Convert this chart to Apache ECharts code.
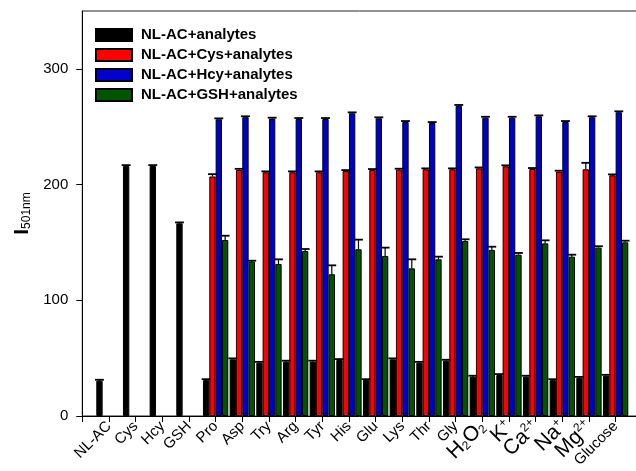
<!DOCTYPE html>
<html>
<head>
<meta charset="utf-8">
<script src="https://cdn.jsdelivr.net/npm/echarts@6/dist/echarts.min.js"></script>
<style>
html,body{margin:0;padding:0;background:#fff;}
#c{width:636px;height:471px;}
</style>
</head>
<body>
<div id="c"></div>
<script>
var categories = ['NL-AC','Cys','Hcy','GSH','Pro','Asp','Try','Arg','Tyr','His','Glu','Lys','Thr','Gly','H2O2','K+','Ca2+','Na+','Mg2+','Glucose'];
var seriesNames = ['NL-AC+analytes','NL-AC+Cys+analytes','NL-AC+Hcy+analytes','NL-AC+GSH+analytes'];
var blackVals = [30.5,216,216,166.5,31,49,46,47,47,48.4,31,49,46,47.8,34,35.4,34,31,33,34.8];
var blackErr  = [0.8,0.8,0.8,0.8,0.8,0.8,0.8,0.8,0.8,0.8,0.8,0.8,0.8,0.8,0.8,0.8,0.8,0.8,0.8,0.8];
var redVals   = [null,null,null,null,207,212.6,210.6,210.6,210.6,211.7,212.6,212.9,213.2,213.2,214,215.8,213.5,211.2,213.2,208];
var redErr    = [null,null,null,null,2,1,0.8,0.8,0.8,0.8,0.8,0.8,0.8,0.8,0.8,0.8,0.8,0.8,5.6,0.8];
var blueVals  = [null,null,null,null,256.4,258.2,257,256.7,256.7,261.6,257.3,254.1,253.2,268,257.8,257.8,259,254.1,258.2,262.5];
var blueErr   = [null,null,null,null,0.8,0.8,0.8,0.8,0.8,0.8,0.8,0.8,0.8,0.8,0.8,0.8,0.8,0.8,0.8,0.8];
var greenVals = [null,null,null,null,152.1,133.4,131.4,142.6,122.5,144.1,138.3,127.6,135.4,151.2,143.5,139.4,149.2,137.7,145.5,150.1];
var greenErr  = [null,null,null,null,3.7,0.8,4,1.7,7.7,8.3,7.2,7.8,2.3,1.5,2.8,1.5,2.6,1.7,1.2,1.4];
var yTicks = [0,100,200,300];
var colors = ['#000000','#FF0000','#0000CC','#005500'];

var FONT = "'Liberation Sans', Arial, sans-serif";
var axisCats = [''].concat(categories).concat(['']);
var allVals = [blackVals, redVals, blueVals, greenVals];
var allErr = [blackErr, redErr, blueErr, greenErr];
var GAP = 0.05, N = 4;

function labelFmt(v){
  var map = {
    'H2O2':'{b|H}{sub|2}{b|O}{sub|2}',
    'K+':'{b|K}{sup|+}',
    'Ca2+':'{b|Ca}{sup|2+}',
    'Na+':'{b|Na}{sup|+}',
    'Mg2+':'{b|Mg}{sup|2+}'
  };
  if (map[v]) return map[v];
  return '{n|' + v + '}';
}

var series = [];
seriesNames.forEach(function(name, k){
  series.push({
    name: name,
    type: 'bar',
    data: [null].concat(allVals[k]).concat([null]),
    barGap: '0%',
    barCategoryGap: (GAP*100)+'%',
    itemStyle: {color: colors[k], borderColor: '#000', borderWidth: 1},
    emphasis: {disabled: true},
    z: 2
  });
});
seriesNames.forEach(function(name, k){
  var d = [];
  allVals[k].forEach(function(v, i){
    if (v != null) d.push([i+1, v, allErr[k][i]]);
  });
  series.push({
    type: 'custom',
    data: d,
    encode: {x: 0, y: 1},
    z: 5,
    silent: true,
    renderItem: (function(kk){
      return function(params, api){
        var idx = api.value(0), v = api.value(1), e = api.value(2);
        var band = api.size([1, 0])[0];
        var group = band * (1 - GAP);
        var w = group / N;
        var p0 = api.coord([idx, v]);
        var p1 = api.coord([idx, v + e]);
        var cx = p0[0] - group/2 + w*(kk + 0.5);
        var hw = w * 0.7;
        return {
          type: 'group',
          children: [
            {type: 'line', shape: {x1: cx, y1: p0[1], x2: cx, y2: p1[1]}, style: {stroke: '#000', lineWidth: 1.2}},
            {type: 'line', shape: {x1: cx - hw, y1: p1[1], x2: cx + hw, y2: p1[1]}, style: {stroke: '#000', lineWidth: 1.8}}
          ]
        };
      };
    })(k)
  });
});

var chart = echarts.init(document.getElementById('c'), null, {renderer: 'canvas'});
chart.setOption({
  animation: false,
  backgroundColor: '#fff',
  textStyle: {fontFamily: FONT},
  grid: {left: 82.3, top: 11, bottom: 55, right: -6.3, show: true, borderColor: '#222', borderWidth: 1, containLabel: false, outerBoundsMode: 'none'},
  legend: {
    orient: 'vertical',
    left: 95, top: 27,
    padding: 0,
    itemWidth: 36, itemHeight: 12, itemGap: 4,
    data: seriesNames,
    icon: 'rect',
    textStyle: {fontFamily: FONT, fontSize: 15, fontWeight: 'bold', color: '#000', lineHeight: 16, padding: [0,0,0,4]},
    selectedMode: false
  },
  xAxis: {
    type: 'category',
    data: axisCats,
    boundaryGap: false,
    axisLine: {lineStyle: {color: '#000', width: 1}},
    axisTick: {show: true, interval: 0, length: 6, lineStyle: {color: '#000'}},
    axisLabel: {
      interval: 0, rotate: 45, margin: 8, color: '#000',
      formatter: labelFmt,
      rich: {
        n: {fontSize: 15, fontFamily: FONT, color: '#000'},
        b: {fontSize: 21, fontFamily: FONT, color: '#000'},
        sub: {fontSize: 12, fontFamily: FONT, color: '#000', verticalAlign: 'bottom', padding: [8,0,0,0]},
        sup: {fontSize: 12, fontFamily: FONT, color: '#000', verticalAlign: 'top', padding: [0,0,10,0]}
      }
    },
    splitLine: {show: false}
  },
  yAxis: {
    type: 'value',
    min: 0, max: 350, interval: 100,
    name: '{i|I}{s|501nm}',
    nameLocation: 'middle',
    nameGap: 50,
    nameTextStyle: {
      rich: {
        i: {fontSize: 21, fontWeight: 'bold', fontFamily: FONT, color: '#000'},
        s: {fontSize: 12, fontFamily: FONT, color: '#000', verticalAlign: 'bottom', padding: [6,0,0,0]}
      }
    },
    axisLine: {show: true, lineStyle: {color: '#000', width: 1}},
    axisTick: {show: true, length: 6, lineStyle: {color: '#000'}, customValues: yTicks},
    axisLabel: {fontSize: 15, color: '#000', margin: 14, fontFamily: FONT, customValues: yTicks},
    splitLine: {show: false}
  },
  series: series
});
</script>
</body>
</html>
